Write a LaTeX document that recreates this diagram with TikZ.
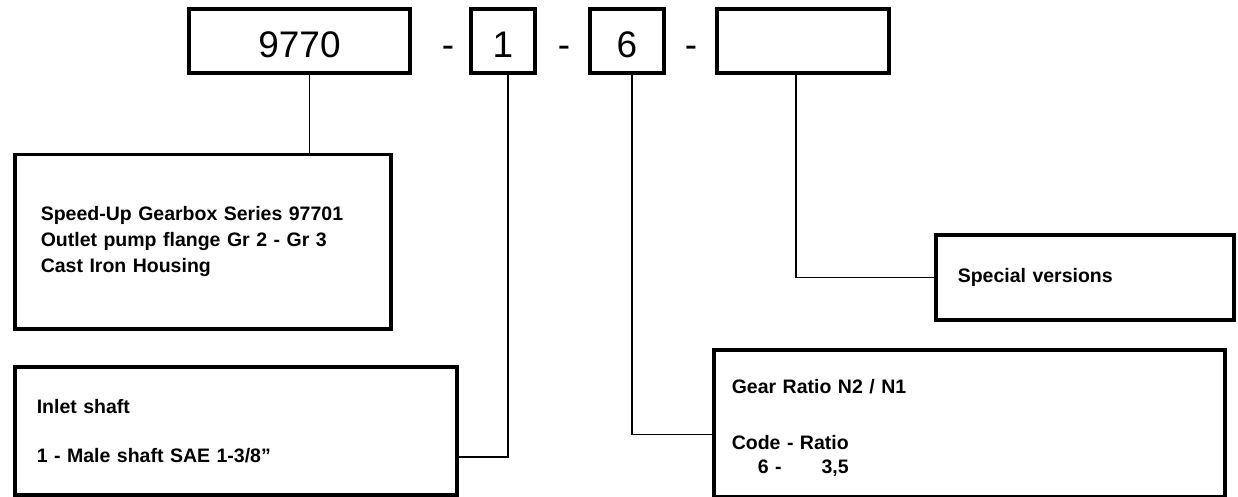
\documentclass[tikz,border=0pt]{standalone}
\usepackage{fontspec}
\setmainfont{Liberation Sans}
\usetikzlibrary{positioning,calc}

\begin{document}
\begin{tikzpicture}[x=1pt, y=-1pt,
    digit/.style={rectangle, draw, line width=3.5pt, minimum height=64pt, inner sep=0pt, text height=34pt, text depth=0pt, font=\fontsize{37}{40}\selectfont},
    hyph/.style={inner sep=0pt, anchor=base, font=\fontsize{37}{40}\selectfont},
    info/.style={rectangle, draw, line width=3.5pt, anchor=north west, align=left, inner ysep=0pt, font=\fontsize{19.5}{24}\selectfont\bfseries},
    link/.style={line width=1.5pt}
]
    \useasboundingbox (0,0) rectangle (1238,497);

    % code fields
    \node[digit, minimum width=221pt] (series) at (299.5,41) {9770};
    \node[digit, minimum width=64pt] (shaft) at (503,41) {1};
    \node[digit, minimum width=74pt] (ratio) at (627,41) {6};
    \node[digit, minimum width=172pt] (special) at (803,41) {};
    \node[hyph] (d1) at (series.base -| 448,0) {-};
    \node[hyph] (d2) at (series.base -| 564,0) {-};
    \node[hyph] (d3) at (series.base -| 691,0) {-};

    % descriptions
    \node[info, inner xsep=26pt, text width=324pt, minimum height=174pt] (gearbox) at (13,153)
        {Speed-Up Gearbox Series 97701\\[2pt]Outlet pump flange Gr 2 - Gr 3\\[2pt]Cast Iron Housing};
    \node[info, inner xsep=22pt, text width=398pt, minimum height=128pt] (inlet) at (13,365)
        {Inlet shaft\\[25pt]1 - Male shaft SAE 1-3/8”};
    \node[info, inner xsep=22pt, text width=254pt, minimum height=85pt] (versions) at (934,233)
        {Special versions};
    \node[info, inner xsep=18pt, text width=475pt, minimum height=147pt] (gear) at (712,348)
        {\rule{0pt}{24pt}Gear Ratio N2 / N1\\[32pt]Code - Ratio\\\hspace{26pt}6 -\hspace{40pt}3,5};

    % connectors
    \draw[link] ([xshift=10pt]series.south) -- ([xshift=10pt]series.south |- gearbox.north);
    \draw[link] ([xshift=5pt]shaft.south) |- ([yshift=-26pt]inlet.east);
    \draw[link] ([xshift=5pt]ratio.south) |- ([yshift=-11pt]gear.west);
    \draw[link] ([xshift=-7pt]special.south) |- (versions.west);
\end{tikzpicture}
\end{document}
